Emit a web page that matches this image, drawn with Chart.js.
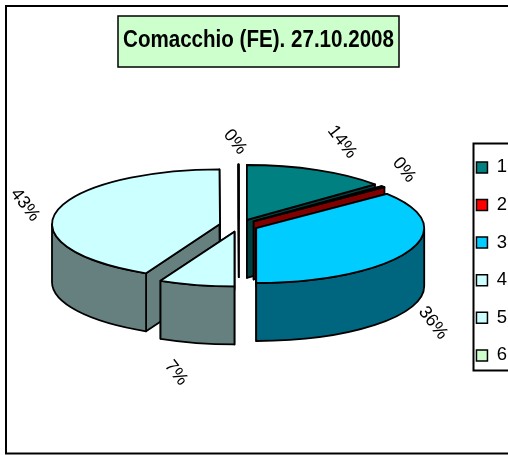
<!DOCTYPE html>
<html><head><meta charset="utf-8">
<style>html,body{margin:0;padding:0;background:#fff}canvas{display:block}</style>
<script src="https://cdn.jsdelivr.net/npm/chart.js@4/dist/chart.umd.js"></script>
</head><body><canvas id="c" width="508" height="455"></canvas>
<script>
const categories = ['1','2','3','4','5','6'];
const values = [13.8, 0.4, 35.8, 7.25, 42.7, 0.05];
const topColors = ['#008080','#FF0000','#00CCFF','#CCFFFF','#CCFFFF','#CCFFCC'];
const sideColors = ['#004040','#800000','#006680','#668080','#668080','#668080'];
const titleText = 'Comacchio (FE). 27.10.2008';
const paintOrder = [5,4,0,1,2,3];
const labelCentres = [[342,142],[404,170],[433,323],[176,373],[25,205],[235,142]];

const PIE = {x:238.8, y:225.5, r:168, k:0.326, depth:58, explode:19.3};
const FONT = 'Liberation Sans, Arial, sans-serif';
const TITLE_CENTRE = 258.5, TITLE_SQUEEZE = 0.857;

const pie3d = {
  id:'pie3d',
  afterLayout(chart){
    const tb = chart.titleBlock;
    if (!tb._squeezed){
      const draw = tb.draw.bind(tb), c = chart.ctx;
      tb.draw = () => {
        c.save();
        c.translate(TITLE_CENTRE,0); c.scale(TITLE_SQUEEZE,1); c.translate(-TITLE_CENTRE,0);
        draw();
        c.restore();
      };
      tb._squeezed = true;
    }
  },
  beforeDraw(chart){
    const c = chart.ctx;
    c.save();
    c.fillStyle='#fff'; c.fillRect(0,0,508,455);
    c.strokeStyle='#000'; c.lineWidth=2;
    c.strokeRect(6,6,520,447.5);
    c.strokeRect(473.5,143.5,60,227);
    c.fillStyle='#CCFFCC'; c.lineWidth=1.5;
    c.fillRect(118,16,281,51); c.strokeRect(118,16,281,51);
    c.restore();
  },
  beforeDatasetsDraw(chart){
    const c = chart.ctx, meta = chart.getDatasetMeta(0), k = PIE.k;
    const total = values.reduce((a,b)=>a+b,0);
    c.save();
    c.lineWidth = 1.8; c.strokeStyle = '#000'; c.lineJoin='round';
    for (const i of paintOrder){
      const arc = meta.data[i];
      const p = arc.getProps(['x','y','startAngle','endAngle','outerRadius']);
      const a = p.startAngle, b = p.endAngle, r = p.outerRadius, mid = (a+b)/2;
      const cx = PIE.x + Math.cos(mid)*PIE.explode;
      const cy = PIE.y + Math.sin(mid)*PIE.explode*k;
      const pt = t => [cx + r*Math.cos(t), cy + r*k*Math.sin(t)];
      c.fillStyle = sideColors[i];
      for (const t of [a,b]){
        const e = pt(t);
        c.beginPath();
        c.moveTo(cx,cy); c.lineTo(e[0],e[1]);
        c.lineTo(e[0],e[1]+PIE.depth); c.lineTo(cx,cy+PIE.depth); c.closePath();
        c.fill(); c.stroke();
      }
      const lo = Math.max(a,0), hi = Math.min(b,Math.PI);
      if (hi > lo){
        c.beginPath();
        c.ellipse(cx,cy,r,r*k,0,lo,hi);
        c.ellipse(cx,cy+PIE.depth,r,r*k,0,hi,lo,true);
        c.closePath(); c.fill(); c.stroke();
      }
      c.save();
      c.translate(cx,cy); c.scale(1,k); c.translate(-p.x,-p.y);
      arc.draw(c);
      c.restore();
      c.beginPath();
      c.moveTo(cx,cy);
      c.ellipse(cx,cy,r,r*k,0,a,b);
      c.closePath(); c.stroke();
    }
    c.fillStyle='#000';
    c.font = '18px '+FONT;
    c.textAlign='center'; c.textBaseline='middle';
    values.forEach((v,i)=>{
      c.save();
      c.translate(labelCentres[i][0],labelCentres[i][1]);
      c.rotate(52*Math.PI/180);
      c.fillText(Math.round(v/total*100)+'%',0,0);
      c.restore();
    });
    c.restore();
    return false;
  }
};

new Chart(document.getElementById('c'),{
  type:'pie',
  plugins:[pie3d],
  data:{labels:categories,datasets:[{data:values,backgroundColor:topColors,borderWidth:0,radius:PIE.r}]},
  options:{
    responsive:false,animation:false,
    layout:{padding:{left:0,right:-9,top:0,bottom:0}},
    plugins:{
      tooltip:{enabled:false},
      title:{display:true,text:titleText,color:'#000',
        font:{family:FONT,size:24,weight:'bold'},padding:{top:26,bottom:13}},
      legend:{position:'right',align:'center',fullSize:false,
        labels:{color:'#000',boxWidth:11,boxHeight:11,padding:19.1,font:{family:FONT,size:18.5},
          generateLabels(chart){
            return Chart.overrides.pie.plugins.legend.labels.generateLabels(chart)
              .map(l=>({...l,lineWidth:1.5,strokeStyle:'#000'}));
          }}}
    }
  }
});
</script></body></html>
